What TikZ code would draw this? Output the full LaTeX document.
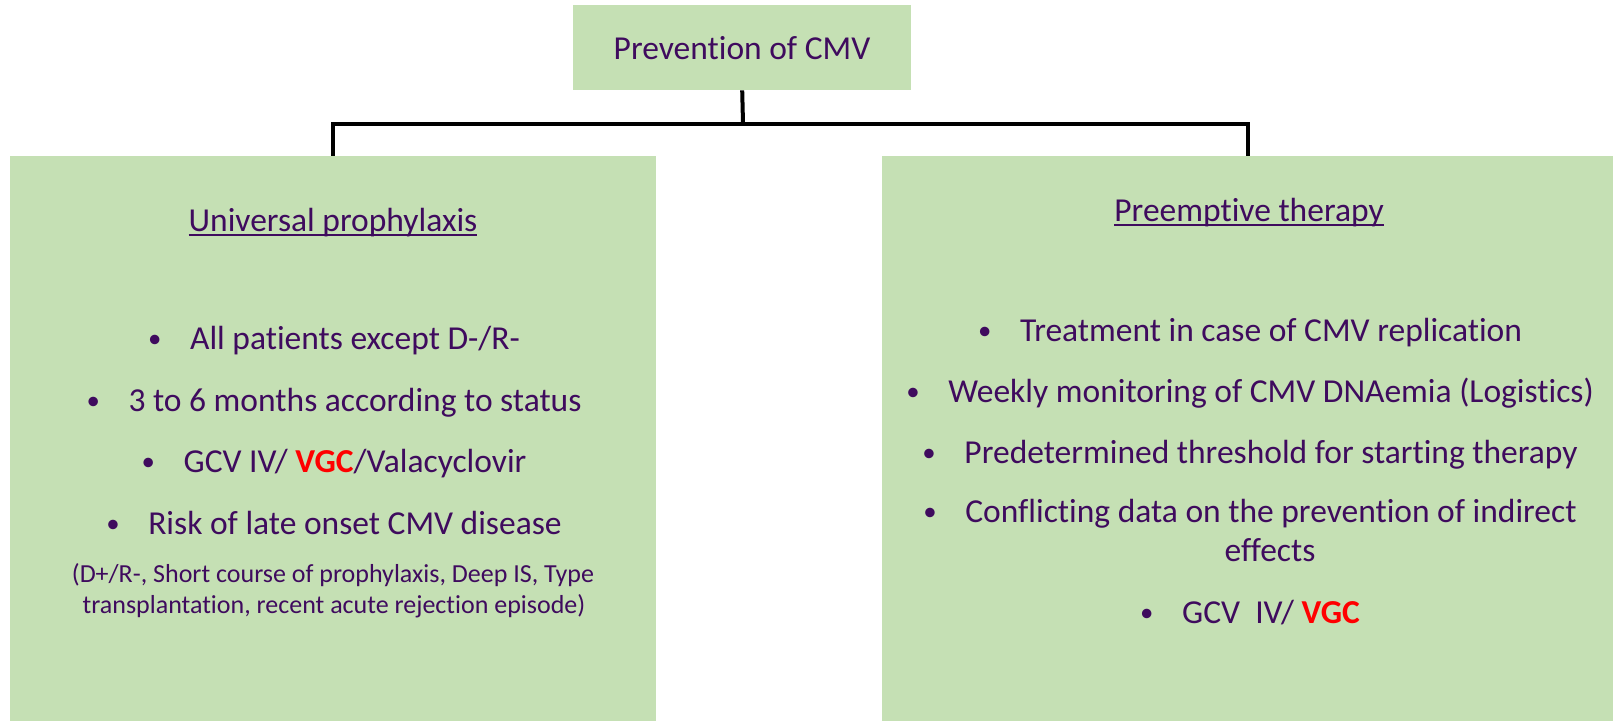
\documentclass[tikz,border=0pt]{standalone}
\usepackage{fontspec}
\usepackage{graphicx}
\setmainfont[Ligatures={NoCommon}]{Carlito}
\definecolor{boxgreen}{HTML}{C5E0B4}
\definecolor{txtpurple}{HTML}{3F0B5E}
\definecolor{vred}{HTML}{FF0000}
\newcommand\myul[1]{\setbox0\hbox{#1}\rlap{\rule[-4.5pt]{\wd0}{1.8pt}}\box0}
\newcommand\bul{\makebox[44pt][l]{\hspace{2pt}\raisebox{1.5pt}{\scalebox{0.8}{•}}}}
\newcommand\red[1]{\textcolor{vred}{\textbf{#1}}}
\begin{document}
\begin{tikzpicture}[x=1pt,y=-1pt,
  panel/.style={fill=boxgreen,draw=none,inner sep=0pt,anchor=north west},
  conn/.style={draw=black,line width=4pt,line join=miter},
  big/.style={text=txtpurple,inner sep=0pt,anchor=base,font=\fontsize{33.5}{40}\selectfont},
  small/.style={text=txtpurple,inner sep=0pt,anchor=base,font=\fontsize{26}{31}\selectfont}]
\useasboundingbox (0,0) rectangle (1613,720);
\fill[white] (0,0) rectangle (1613,720);
% boxes
\node[panel,minimum width=338pt,minimum height=85pt] (top) at (573,5) {};
\node[big] (title) at (742,59) {Prevention of CMV};
\node[panel,minimum width=646pt,minimum height=566pt] (left) at (10,156) {};
\node[panel,minimum width=731pt,minimum height=566pt] (right) at (882,156) {};
% connectors
\coordinate (j) at (743,123.5);
\draw[conn] (top.south) -- (j);
\draw[conn] (j) -| (left.north);
\draw[conn] (j) -| (right.north);
% left text
\node[big] (lh) at (333,231) {\myul{Universal prophylaxis}};
\node[big] (l1) at (333,349) {\bul All patients except D-/R-};
\node[big] (l2) at (333,411) {\bul 3 to 6 months according to status};
\node[big] (l3) at (333,472) {\bul GCV IV/ \red{VGC}/Valacyclovir};
\node[big] (l4) at (333,534) {\bul Risk of late onset CMV disease};
\node[small] (l5) at (333,582) {(D+/R-, Short course of prophylaxis, Deep IS, Type};
\node[small] (l6) at (334,613) {transplantation, recent acute rejection episode)};
% right text
\node[big] (rh) at (1249,221) {\myul{Preemptive therapy}};
\node[big] (r1) at (1249,341) {\bul Treatment in case of CMV replication};
\node[big] (r2) at (1249,402) {\bul Weekly monitoring of CMV DNAemia (Logistics)};
\node[big] (r3) at (1249,463) {\bul Predetermined threshold for starting therapy};
\node[big] (r4) at (1249,522) {\bul Conflicting data on the prevention of indirect};
\node[big] (r5) at (1270,561) {effects};
\node[big] (r6) at (1249,623) {\bul GCV\ \ IV/ \red{VGC}};
\end{tikzpicture}
\end{document}
